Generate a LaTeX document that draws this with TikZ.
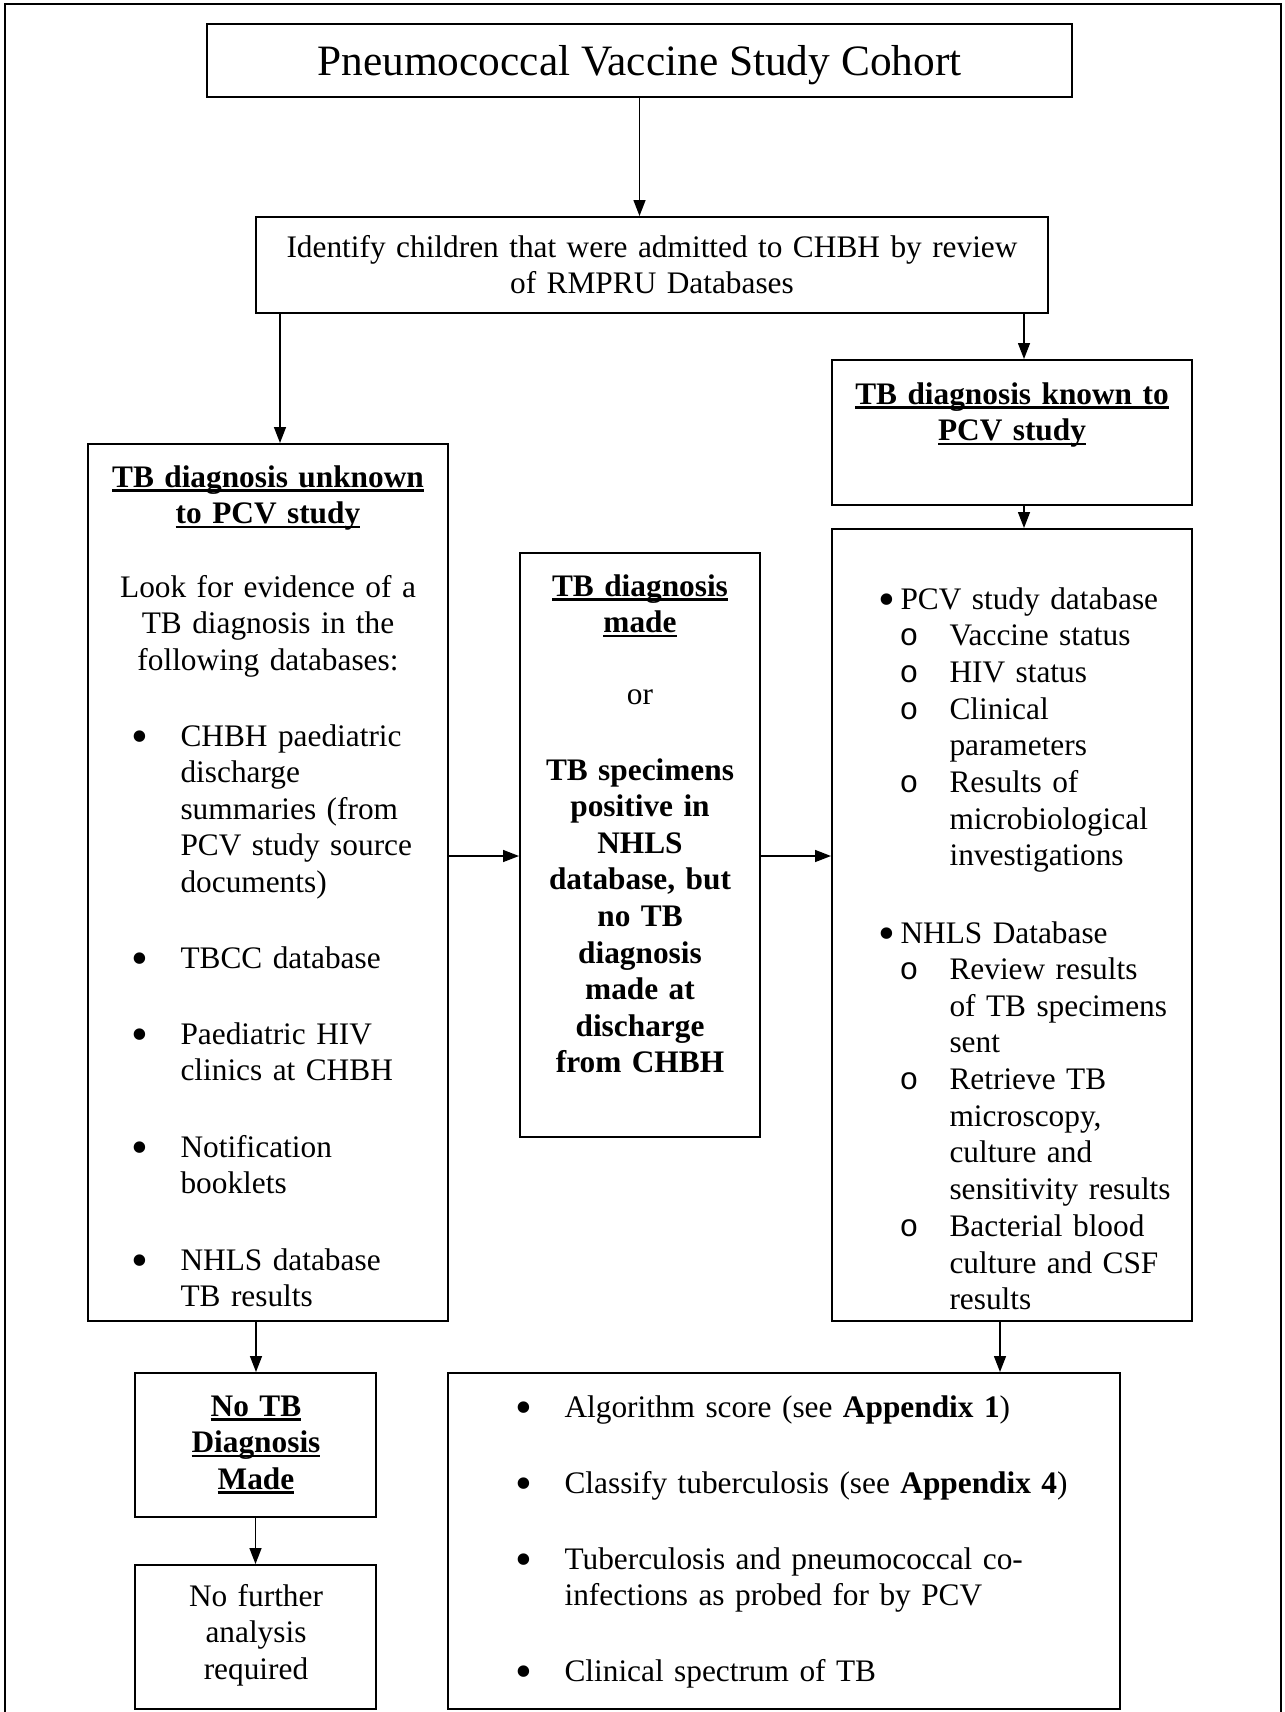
\documentclass[tikz,border=0pt]{standalone}
\usepackage{fontspec}
\setmainfont{Liberation Serif}
\newfontfamily\courfont{Liberation Mono}
\usetikzlibrary{arrows.meta,fit}
\newcommand\undl[1]{\leavevmode\hbox{\setbox0=\hbox{#1}\rlap{\rule[-1.7pt]{\wd0}{0.9pt}}\box0}}
\newcommand\bigbul{\raisebox{-2.4pt}{\fontsize{18}{18}\selectfont •}}

\begin{document}
\begin{tikzpicture}[x=0.375pt, y=-0.375pt,
    box/.style={draw, line width=0.75pt, inner sep=0pt},
    arr/.style={-{Triangle[length=6pt,width=4.5pt]}, line width=0.55pt},
    txt/.style={font=\fontsize{11.75}{13.73}\selectfont, inner sep=0pt, anchor=base},
    ctr/.style={txt, align=center, text width=#1}, ctr/.default=130pt,
    lft/.style={txt, anchor=base west, align=left, text width=#1}, lft/.default=112pt]
  \useasboundingbox (0,0) rectangle (1285,1712);
  \draw[line width=0.75pt] (5,1712) -- (5,4) -- (1281,4) -- (1281,1712);

  \node[box, fit={(207,24) (1072,97)}] (cohort) {};
  \node[box, fit={(256,217) (1048,313)}] (ident) {};
  \node[box, fit={(88,444) (448,1321)}] (unknown) {};
  \node[box, fit={(520,553) (760,1137)}] (made) {};
  \node[box, fit={(832,360) (1192,505)}] (known) {};
  \node[box, fit={(832,529) (1192,1321)}] (checks) {};
  \node[box, fit={(135,1373) (376,1517)}] (notb) {};
  \node[box, fit={(135,1565) (376,1709)}] (nofurther) {};
  \node[box, fit={(448,1373) (1120,1709)}] (analysis) {};

  \coordinate (xa) at (280,0);
  \coordinate (xb) at (1024,0);
  \coordinate (xc) at (256,0);
  \coordinate (xd) at (1000,0);
  \coordinate (ym) at (0,856);

  \draw[arr] (cohort.south) -- (cohort.south |- ident.north);
  \draw[arr] (ident.south -| xa) -- (unknown.north -| xa);
  \draw[arr] (ident.south -| xb) -- (known.north -| xb);
  \draw[arr] (known.south -| xb) -- (checks.north -| xb);
  \draw[arr] (unknown.east |- ym) -- (made.west |- ym);
  \draw[arr] (made.east |- ym) -- (checks.west |- ym);
  \draw[arr] (unknown.south -| xc) -- (notb.north -| xc);
  \draw[arr] (notb.south) -- (nofurther.north);
  \draw[arr] (checks.south -| xd) -- (analysis.north -| xd);

  \node[txt, font=\fontsize{16.25}{19}\selectfont] (title) at (639.5,76) {Pneumococcal Vaccine Study Cohort};
  \node[ctr=300pt] (identtxt) at (652,257) {Identify children that were admitted to CHBH by review\\of RMPRU Databases};

  \node[ctr] (unkhead) at (268,487) {\bfseries\undl{TB diagnosis unknown}\\\undl{to PCV study}};
  \node[ctr] (looktxt) at (268,597) {Look for evidence of a\\TB diagnosis in the\\following databases:};
  \foreach \y in {746,968,1044,1157,1270}
    \node[txt] (lb\y) at (140,\y) {\bigbul};
  \node[lft] (db1) at (180,746) {CHBH paediatric\\discharge\\summaries (from\\PCV study source\\documents)};
  \node[lft] (db2) at (180,968) {TBCC database};
  \node[lft] (db3) at (180,1044) {Paediatric HIV\\clinics at CHBH};
  \node[lft] (db4) at (180,1157) {Notification\\booklets};
  \node[lft] (db5) at (180,1270) {NHLS database\\TB results};

  \node[ctr=85pt] (madehead) at (640,596) {\bfseries\undl{TB diagnosis}\\\undl{made}};
  \node[ctr=85pt] (ortxt) at (640,704) {or};
  \node[ctr=85pt] (madetxt) at (640,780) {\bfseries TB specimens\\positive in\\NHLS\\database, but\\no TB\\diagnosis\\made at\\discharge\\from CHBH};

  \node[ctr] (knownhead) at (1012,404) {\bfseries\undl{TB diagnosis known to}\\\undl{PCV study}};
  \node[txt] (rb1) at (887,609) {\bigbul};
  \node[txt] (rb2) at (887,943) {\bigbul};
  \node[lft] (pcvdb) at (900,609) {PCV study database};
  \node[lft] (nhlsdb) at (900,943) {NHLS Database};
  \foreach \y in {645.7,682.4,719.1,792.5,979.6,1089.7,1236.5}
    \node[txt] (ro\y) at (909,\y) {\courfont o};
  \node[lft] (sub1) at (949,645.7) {Vaccine status};
  \node[lft] (sub2) at (949,682.4) {HIV status};
  \node[lft] (sub3) at (949,719.1) {Clinical\\parameters};
  \node[lft] (sub4) at (949,792.5) {Results of\\microbiological\\investigations};
  \node[lft] (sub5) at (949,979.6) {Review results\\of TB specimens\\sent};
  \node[lft] (sub6) at (949,1089.7) {Retrieve TB\\microscopy,\\culture and\\sensitivity results};
  \node[lft] (sub7) at (949,1236.5) {Bacterial blood\\culture and CSF\\results};

  \node[ctr=85pt] (notbtxt) at (256,1416) {\bfseries\undl{No TB}\\\undl{Diagnosis}\\\undl{Made}};
  \node[ctr=85pt] (nofurthertxt) at (256,1606) {No further\\analysis\\required};

  \foreach \y in {1417,1493,1569,1681}
    \node[txt] (ab\y) at (524,\y) {\bigbul};
  \node[lft=230pt] (an1) at (564,1417) {Algorithm score (see \textbf{Appendix 1})};
  \node[lft=230pt] (an2) at (564,1493) {Classify tuberculosis (see \textbf{Appendix 4})};
  \node[lft=230pt] (an3) at (564,1569) {Tuberculosis and pneumococcal co-\\infections as probed for by PCV};
  \node[lft=230pt] (an4) at (564,1681) {Clinical spectrum of TB};
\end{tikzpicture}
\end{document}
